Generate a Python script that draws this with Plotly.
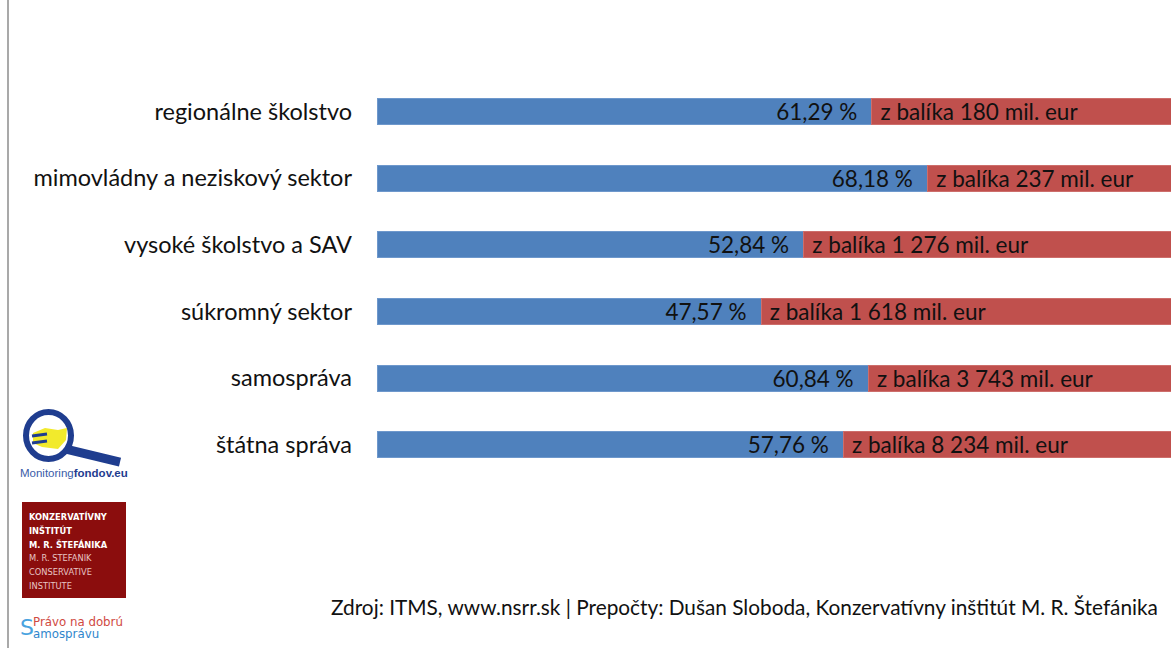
import plotly.graph_objects as go

categories = ["regionálne školstvo", "mimovládny a neziskový sektor", "vysoké školstvo a SAV",
              "súkromný sektor", "samospráva", "štátna správa"]
share_pct = [61.29, 68.18, 52.84, 47.57, 60.84, 57.76]
package_meur = ["180", "237", "1 276", "1 618", "3 743", "8 234"]
source_text = "Zdroj: ITMS, www.nsrr.sk | Prepočty: Dušan Sloboda, Konzervatívny inštitút M. R. Štefánika"

rest_pct = [round(100 - v, 2) for v in share_pct]
NB = "\u00a0"
blue_labels = [f"{v:.2f}".replace(".", ",") + " %" + NB * 2 for v in share_pct]
red_labels = [NB + f"z balíka {p} mil. eur" for p in package_meur]

W, H = 1171, 648
L, R, T, B = 377, 0, 78, 170
PW, PH = W - L - R, H - T - B

def px(x):
    return (x - L) / PW

def py(y):
    return (H - B - y) / PH

FONT = "Lato"
fig = go.Figure()
fig.add_trace(go.Bar(
    y=categories, x=share_pct, orientation="h",
    marker=dict(color="#4F81BD", line=dict(color="#6E98CC", width=1)),
    text=blue_labels, textposition="inside", insidetextanchor="end", constraintext="none",
    textfont=dict(family=FONT, size=22.5, color="#111111"),
    hoverinfo="skip", cliponaxis=True,
))
fig.add_trace(go.Bar(
    y=categories, x=rest_pct, orientation="h",
    marker=dict(color="#C0504D", line=dict(color="#CD6E6B", width=1)),
    text=red_labels, textposition="inside", insidetextanchor="start", constraintext="none",
    textfont=dict(family=FONT, size=22.5, color="#111111"),
    hoverinfo="skip", cliponaxis=True,
))

shapes = []
# slide border on the left
shapes.append(dict(type="line", xref="paper", yref="paper", x0=px(8), x1=px(8), y0=py(0), y1=py(H),
                   line=dict(color="#8c8c8c", width=1.5)))
# Monitoringfondov.eu logo (magnifier)
shapes.append(dict(type="line", xref="paper", yref="paper", x0=px(66), y0=py(449), x1=px(120), y1=py(462),
                   line=dict(color="#1f3d8f", width=9)))
shapes.append(dict(type="path", xref="paper", yref="paper",
                   path=(f"M {px(33)} {py(433)} L {px(45)} {py(428)} L {px(58)} {py(430)} L {px(67)} {py(428)} "
                         f"L {px(66)} {py(440)} L {px(58)} {py(449)} L {px(42)} {py(447)} L {px(33)} {py(443)} Z"),
                   fillcolor="#f2ea2c", line=dict(width=0)))
shapes.append(dict(type="circle", xref="paper", yref="paper", x0=px(26), x1=px(71), y0=py(412), y1=py(459),
                   line=dict(color="#1f3d8f", width=6)))
shapes.append(dict(type="line", xref="paper", yref="paper", x0=px(32), y0=py(436), x1=px(47), y1=py(434),
                   line=dict(color="#1f3d8f", width=3)))
shapes.append(dict(type="line", xref="paper", yref="paper", x0=px(32), y0=py(443), x1=px(47), y1=py(441),
                   line=dict(color="#1f3d8f", width=3)))
# Konzervativny institut box
shapes.append(dict(type="rect", xref="paper", yref="paper", x0=px(22), x1=px(126), y0=py(502), y1=py(598),
                   fillcolor="#8B0D0D", line=dict(width=0)))

annotations = []
annotations.append(dict(xref="paper", yref="paper", x=px(74), y=py(473), xanchor="center", yanchor="middle",
                        text="<span style='color:#3a5ba8'>Monitoring</span><b style='color:#1f3d8f'>fondov.eu</b>",
                        showarrow=False, font=dict(family="Liberation Sans Narrow, Liberation Sans", size=11.5)))
inst_lines = [("KONZERVATÍVNY", True), ("INŠTITÚT", True), ("M. R. ŠTEFÁNIKA", True),
              ("M. R. STEFANIK", False), ("CONSERVATIVE", False), ("INSTITUTE", False)]
for i, (t, bold) in enumerate(inst_lines):
    annotations.append(dict(xref="paper", yref="paper", x=px(27), y=py(516 + i * 14), xanchor="left", yanchor="middle",
                            text=f"<b>{t}</b>" if bold else t, showarrow=False,
                            font=dict(family="DejaVu Sans", size=8.3, color="#ffffff" if bold else "#e8c4c4")))
annotations.append(dict(xref="paper", yref="paper", x=px(18), y=py(627), xanchor="left", yanchor="middle",
                        text="S", showarrow=False, font=dict(family="DejaVu Sans", size=22, color="#4aa3df")))
annotations.append(dict(xref="paper", yref="paper", x=px(31), y=py(622), xanchor="left", yanchor="middle",
                        text="Právo na dobrú", showarrow=False, font=dict(family="DejaVu Sans", size=11.8, color="#d0493f")))
annotations.append(dict(xref="paper", yref="paper", x=px(31), y=py(634), xanchor="left", yanchor="middle",
                        text="amosprávu", showarrow=False, font=dict(family="DejaVu Sans", size=11.8, color="#2f86cc")))
annotations.append(dict(xref="paper", yref="paper", x=px(1160), y=py(606), xanchor="right", yanchor="middle",
                        text=source_text, showarrow=False, font=dict(family=FONT, size=20.8, color="#111111")))

fig.update_layout(
    width=W, height=H, barmode="stack", bargap=0.61, showlegend=False,
    margin=dict(l=L, r=R, t=T, b=B, autoexpand=False),
    paper_bgcolor="white", plot_bgcolor="white",
    xaxis=dict(range=[0, 98.35], visible=False, fixedrange=True),
    yaxis=dict(autorange="reversed", showgrid=False, showline=False, ticks="", fixedrange=True,
               tickfont=dict(family=FONT, size=23.5, color="#111111"), ticklabelstandoff=24),
    shapes=shapes, annotations=annotations,
)
fig.write_html("out.html", config={"displayModeBar": False},
               post_script="document.body.style.margin='0px';document.body.style.overflow='hidden';")
